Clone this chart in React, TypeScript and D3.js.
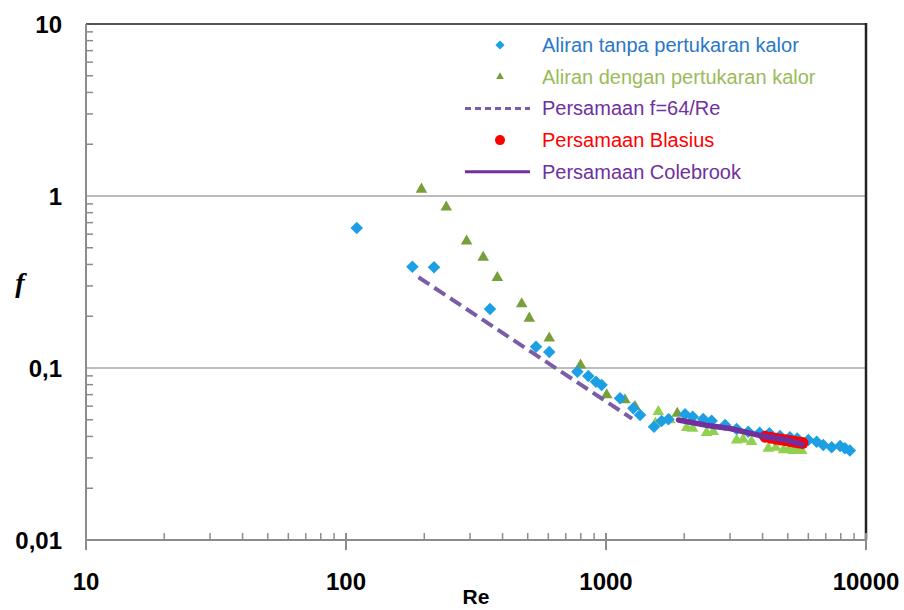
import React from "react";
import * as d3 from "d3";

const blueRe = [110, 180, 218, 358, 538, 605, 776, 855, 915, 962, 1132, 1274, 1352, 1530, 1637, 1738, 2014, 2155, 2365, 2548, 2870, 3180, 3525, 3900, 4250, 4670, 5100, 5440, 6000, 6460, 6850, 7380, 7950, 8300, 8670];
const blueF = [0.652, 0.388, 0.385, 0.22, 0.133, 0.124, 0.0952, 0.0898, 0.0832, 0.0796, 0.0667, 0.0583, 0.0533, 0.0456, 0.0492, 0.0503, 0.0538, 0.0521, 0.0505, 0.0494, 0.0466, 0.0442, 0.0426, 0.042, 0.0417, 0.0402, 0.0396, 0.0389, 0.0381, 0.0373, 0.0357, 0.0346, 0.0352, 0.0341, 0.0331];

const oliveRe = [195, 243, 291, 337, 382, 474, 507, 605, 798, 1006, 1183, 1293, 1880];
const oliveF = [1.094, 0.86, 0.547, 0.44, 0.335, 0.236, 0.1945, 0.149, 0.104, 0.0697, 0.0652, 0.0596, 0.0545];

const limeRe = [1550, 1589, 1763, 2043, 2155, 2437, 2587, 3180, 3370, 3630, 4210, 4500, 4810, 5050, 5250, 5450, 5660];
const limeF = [0.0477, 0.0557, 0.0499, 0.045, 0.0446, 0.0421, 0.0426, 0.0381, 0.0385, 0.0373, 0.0341, 0.0345, 0.0334, 0.0338, 0.0331, 0.0334, 0.0331];

const laminarRe = [190, 400, 800, 1260];
const laminarF = [0.337, 0.16, 0.08, 0.0508];

const blasiusRe = [4100, 4300, 4500, 4700, 4900, 5100, 5300, 5500, 5700];
const blasiusF = [0.0398, 0.0393, 0.0388, 0.0384, 0.038, 0.0376, 0.0372, 0.0369, 0.0366];

const colebrookRe = [1900, 2500, 3000, 4000, 5000, 5700];
const colebrookF = [0.0499, 0.0462, 0.0445, 0.0402, 0.038, 0.036];

const xTickLabels = ["10", "100", "1000", "10000"];
const xTickValues = [10, 100, 1000, 10000];
const yTickLabels = ["0,01", "0,1", "1", "10"];
const yTickValues = [0.01, 0.1, 1, 10];

const legendLabels = [
  "Aliran tanpa pertukaran kalor",
  "Aliran dengan pertukaran kalor",
  "Persamaan f=64/Re",
  "Persamaan Blasius",
  "Persamaan Colebrook",
];

const W = 904;
const H = 610;
const L = 86, R = 866, T = 24, B = 540;

export default function App() {
  const x = d3.scaleLog().domain([10, 10000]).range([L, R]);
  const y = d3.scaleLog().domain([0.01, 10]).range([B, T]);

  const xMinor = x.ticks().filter((v) => !xTickValues.includes(v));
  const yMinor = y.ticks().filter((v) => !yTickValues.includes(v));

  const diamond = d3.symbol(d3.symbolSquare, 78)()!;
  const diamondLeg = d3.symbol(d3.symbolSquare, 42)()!;
  const tri = d3.symbol(d3.symbolTriangle, 58)()!;
  const triLeg = d3.symbol(d3.symbolTriangle, 26)()!;

  const line = d3
    .line<[number, number]>()
    .x((d) => x(d[0]))
    .y((d) => y(d[1]));

  const laminar = line(laminarRe.map((r, i) => [r, laminarF[i]]))!;
  const colebrook = line(colebrookRe.map((r, i) => [r, colebrookF[i]]))!;

  const font = "'Liberation Sans', Arial, sans-serif";
  const blue = "#1C9FE3";
  const olive = "#77A03C";
  const lime = "#92D050";
  const purpleDash = "#7B5CA6";
  const purple = "#7030A0";

  const legY = (i: number) => 45 + i * 31.7;
  const legColors = ["#2A78C6", "#9BBB59", "#7030A0", "#FF0000", "#7030A0"];

  return (
    <svg width={W} height={H} style={{ position: "absolute", left: 0, top: 0, background: "#fff" }}>
      <rect x={0} y={0} width={W} height={H} fill="#fff" />
      {[1, 0.1].map((v) => (
        <line key={v} x1={L} x2={R} y1={y(v)} y2={y(v)} stroke="#A6A6A6" strokeWidth={1.5} />
      ))}
      <line x1={L} x2={R} y1={T} y2={T} stroke="#555" strokeWidth={2} />
      <line x1={R} x2={R} y1={T - 1} y2={B} stroke="#222" strokeWidth={2.5} />
      <line x1={L} x2={L} y1={T} y2={B + 8} stroke="#8C8C8C" strokeWidth={2} />
      <line x1={L} x2={R} y1={B} y2={B} stroke="#8C8C8C" strokeWidth={2} />
      {yMinor.map((v) => (
        <line key={"ym" + v} x1={L} x2={L + 7} y1={y(v)} y2={y(v)} stroke="#8C8C8C" strokeWidth={1.5} />
      ))}
      {xMinor.map((v) => (
        <line key={"xm" + v} x1={x(v)} x2={x(v)} y1={B} y2={B - 7} stroke="#8C8C8C" strokeWidth={1.5} />
      ))}
      {xTickValues.map((v) => (
        <line key={"xM" + v} x1={x(v)} x2={x(v)} y1={B - 7} y2={B + 10} stroke="#8C8C8C" strokeWidth={2} />
      ))}
      {xTickValues.map((v, i) => (
        <text key={"xl" + v} x={x(v)} y={590} textAnchor="middle" fontFamily={font} fontWeight="bold" fontSize={24} fill="#000">
          {xTickLabels[i]}
        </text>
      ))}
      {yTickValues.map((v, i) => (
        <text key={"yl" + v} x={62} y={y(v) + 8.5} textAnchor="end" fontFamily={font} fontWeight="bold" fontSize={24} fill="#000">
          {yTickLabels[i]}
        </text>
      ))}
      <text x={(L + R) / 2} y={604} textAnchor="middle" fontFamily={font} fontWeight="bold" fontSize={21} fill="#000">
        Re
      </text>
      <text x={20} y={292} textAnchor="middle" fontFamily="'Liberation Serif', serif" fontWeight="bold" fontStyle="italic" fontSize={28} fill="#000">
        f
      </text>

      {oliveRe.map((r, i) => (
        <path key={"o" + i} d={tri} transform={`translate(${x(r)},${y(oliveF[i])})`} fill={olive} />
      ))}
      {limeRe.map((r, i) => (
        <path key={"l" + i} d={tri} transform={`translate(${x(r)},${y(limeF[i])})`} fill={lime} />
      ))}
      {blueRe.map((r, i) => (
        <path key={"b" + i} d={diamond} transform={`translate(${x(r)},${y(blueF[i])}) rotate(45)`} fill={blue} />
      ))}
      <path d={laminar} fill="none" stroke={purpleDash} strokeWidth={4} strokeDasharray="13 6" />
      {blasiusRe.map((r, i) => (
        <circle key={"r" + i} cx={x(r)} cy={y(blasiusF[i])} r={6} fill="#FF0000" />
      ))}
      <path d={colebrook} fill="none" stroke={purple} strokeWidth={5.5} strokeLinecap="round" />

      <path d={diamondLeg} transform={`translate(500,${legY(0)}) rotate(45)`} fill={blue} />
      <path d={triLeg} transform={`translate(500,${legY(1)})`} fill={olive} />
      <line x1={465} x2={530} y1={legY(2)} y2={legY(2)} stroke={purpleDash} strokeWidth={3} strokeDasharray="6 4" />
      <circle cx={500} cy={legY(3)} r={5} fill="#FF0000" />
      <line x1={465} x2={530} y1={legY(4)} y2={legY(4)} stroke={purple} strokeWidth={3} />
      {legendLabels.map((t, i) => (
        <text key={"lg" + i} x={542} y={legY(i) + 7} fontFamily={font} fontSize={20} fill={legColors[i]}>
          {t}
        </text>
      ))}
    </svg>
  );
}
